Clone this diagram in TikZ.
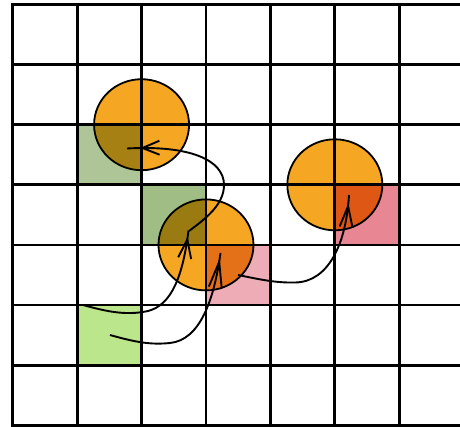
\documentclass[tikz,border=0pt]{standalone}
\usetikzlibrary{shapes.geometric,arrows.meta,decorations.markings}
\definecolor{corange}{RGB}{245,166,35}
\definecolor{sage}{RGB}{174,197,152}
\definecolor{dgreen}{RGB}{160,189,134}
\definecolor{lgreen}{RGB}{187,230,140}
\definecolor{lpink}{RGB}{238,173,182}
\definecolor{dpink}{RGB}{232,134,148}
\tikzset{
  ball/.style={ellipse, draw=black, line width=1.8pt, fill=corange, minimum width=95pt, minimum height=91pt, inner sep=0pt},
  cellbox/.style={rectangle, draw=none, minimum width=64.43pt, minimum height=60.1pt, inner sep=0pt, outer sep=0pt},
  gridline/.style={line width=2.8pt, black, line cap=rect},
  conn/.style={line width=1.9pt, black},
  tipat/.style 2 args={postaction={decorate}, decoration={markings, mark=at position #1 with {\arrow[line width=1.9pt]{#2}}}},
}
\begin{document}
\begin{tikzpicture}[x=1pt,y=-1pt]
\useasboundingbox (0,0) rectangle (460,426);
% balls
\node[ball] (c1) at (141.56,124.7) {};
\node[ball] (c2) at (205.99,244.9) {};
\node[ball] (c3) at (334.85,184.8) {};
% coloured cells
\begin{scope}[blend mode=multiply]
  \node[cellbox, fill=sage]   (g1) at (109.35,154.75) {};
  \node[cellbox, fill=dgreen] (g2) at (173.78,214.85) {};
  \node[cellbox, fill=lpink]  (p1) at (238.2,274.95) {};
  \node[cellbox, fill=dpink]  (p2) at (367.07,214.85) {};
  \node[cellbox, fill=lgreen] (g3) at (109.35,335.05) {};
\end{scope}
% grid
\foreach \x in {12.7,77.13,141.56,205.99,270.42,334.85,399.28}
  \draw[gridline] (\x,4.5) -- (\x,425.2);
\foreach \y in {4.5,64.6,124.7,184.8,244.9,305.0,365.1,425.2}
  \draw[gridline] (12.7,\y) -- (470,\y);
% connector end points
\coordinate (a1s) at (189,231);
\coordinate (a1e) at (127,148.5);
\coordinate (a2s) at (83,305);
\coordinate (a2e) at (188.5,230.5);
\coordinate (a3s) at (110,335);
\coordinate (a3e) at (220.5,253);
\coordinate (a4s) at (238,275);
\coordinate (a4e) at (349,195);
% connectors
\draw[conn, tipat={-13pt}{Straight Barb[length=17pt,width=14pt]}]
  (a1s) .. controls (205,219) and (224,205) .. (224,185)
        .. controls (224,160) and (190,145) .. (a1e);
\draw[conn, tipat={-6pt}{Straight Barb[length=19pt,width=13pt]}]
  (a2s) .. controls (105,311) and (125,316) .. (148,311)
        .. controls (172,305) and (183,275) .. (a2e);
\draw[conn, tipat={-5pt}{Straight Barb[length=26pt,width=13pt]}]
  (a3s) .. controls (135,342) and (150,345) .. (170,343)
        .. controls (200,340) and (214,300) .. (a3e);
\draw[conn, tipat={-8pt}{Straight Barb[length=21pt,width=13pt]}]
  (a4s) .. controls (258,279) and (275,283) .. (295,282.5)
        .. controls (328,282) and (346,245) .. (a4e);
\end{tikzpicture}
\end{document}
